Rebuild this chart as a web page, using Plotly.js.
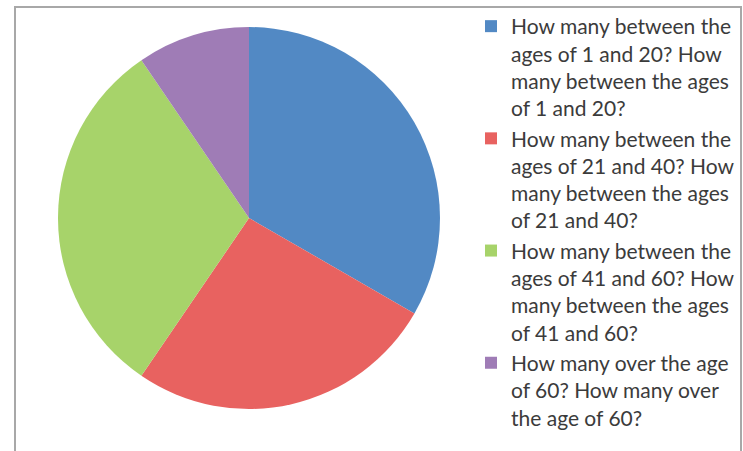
<!DOCTYPE html>
<html>
<head>
<meta charset="utf-8">
<script src="https://cdn.plot.ly/plotly-3.0.1.min.js"></script>
<style>
html,body{margin:0;padding:0;background:#fff;}
#chart{width:743px;height:451px;}
</style>
</head>
<body>
<div id="chart"></div>
<script>
// Data
const categories = [
  "How many between the<br>ages of 1 and 20? How<br>many between the ages<br>of 1 and 20?",
  "How many between the<br>ages of 21 and 40? How<br>many between the ages<br>of 21 and 40?",
  "How many between the<br>ages of 41 and 60? How<br>many between the ages<br>of 41 and 60?",
  "How many over the age<br>of 60? How many over<br>the age of 60?"
];
const values = [14, 11, 13, 4];
const sliceColors = ["#5289C4", "#E86260", "#A7D36A", "#9F7CB6"];

const W = 743, H = 451;
const cx = 249, cy = 218, r = 191;

const trace = {
  type: "pie",
  labels: categories,
  values: values,
  sort: false,
  direction: "clockwise",
  rotation: 0,
  textinfo: "none",
  hoverinfo: "label+value+percent",
  marker: {colors: sliceColors, line: {width: 0}},
  domain: {
    x: [(cx - r) / W, (cx + r) / W],
    y: [1 - (cy + r) / H, 1 - (cy - r) / H]
  }
};

const layout = {
  width: W,
  height: H,
  margin: {l: 0, r: 0, t: 0, b: 0},
  paper_bgcolor: "#ffffff",
  showlegend: true,
  legend: {
    x: 471 / W,
    xanchor: "left",
    y: 1 - 6 / H,
    yanchor: "top",
    valign: "top",
    font: {family: "Lato, 'Open Sans', sans-serif", size: 21, color: "#3b3b3b"},
    bgcolor: "rgba(0,0,0,0)",
    traceorder: "normal"
  },
  shapes: [{
    type: "rect",
    xref: "paper", yref: "paper",
    x0: 15 / W, x1: 741 / W,
    y0: -0.05, y1: 1 - 7 / H,
    line: {color: "#A8A8A8", width: 2},
    fillcolor: "rgba(0,0,0,0)",
    layer: "below"
  }]
};

Plotly.newPlot("chart", [trace], layout, {displayModeBar: false, staticPlot: true});
</script>
</body>
</html>
